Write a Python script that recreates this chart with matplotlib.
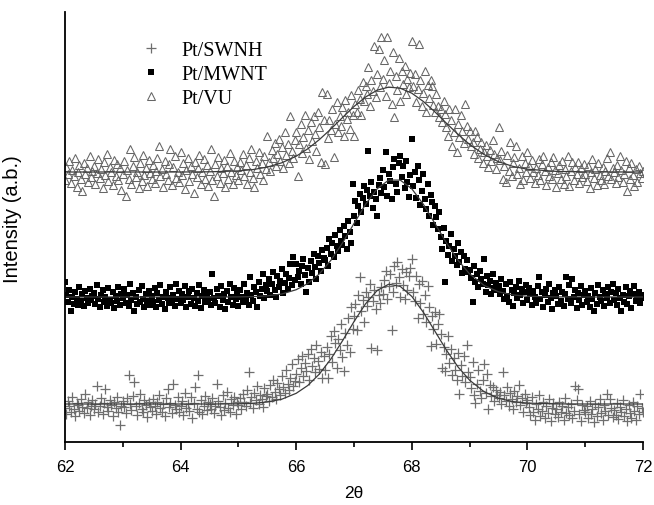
'''
XRD Pt(220) region for three Pt catalysts: scan points with their Gaussian fits
'''

import numpy as np
import matplotlib
matplotlib.use('Agg')
import matplotlib.pyplot as plt
from matplotlib.lines import Line2D


## Scan positions (2 theta, deg), 0.025 deg step
two_theta = np.round(np.arange(62.0, 72.0001, 0.025), 3)

## Pt/SWNH counts (a.u.)
swnh = [
   34, 28, 41, 36, 30, 45, 33, 26, 39, 37, 31, 43, 35, 29, 48, 34, 40, 27, 36, 42,
   33, 38, 56, 30, 36, 44, 28, 39, 53, 35, 31, 42, 37, 26, 40, 34, 45, 30, 17, 36,
   41, 35, 29, 44, 67, 38, 32, 46, 60, 36, 27, 39, 48, 33, 30, 42, 37, 25, 40, 35,
   31, 43, 36, 28, 40, 47, 34, 30, 38, 26, 44, 53, 35, 39, 29, 58, 37, 33, 45, 30,
   36, 41, 27, 49, 34, 38, 31, 45, 24, 39, 55, 33, 67, 30, 42, 28, 36, 46, 32, 40,
   38, 33, 44, 29, 36, 58, 41, 35, 27, 47, 32, 39, 50, 34, 30, 43, 37, 45, 28, 40,
   37, 44, 33, 48, 40, 36, 52, 70, 39, 45, 34, 49, 42, 56, 38, 47, 43, 35, 54, 46,
   48, 41, 57, 45, 62, 50, 43, 59, 53, 47, 66, 55, 49, 72, 58, 52, 64, 78, 56, 61,
   68, 83, 60, 74, 86, 66, 79, 71, 88, 62, 93, 76, 84, 70, 97, 81, 73, 90, 64, 86,
   72, 95, 64, 88, 106, 80, 111, 99, 74, 103, 92, 118, 85, 71, 109, 97, 124, 90, 135, 113,
   126, 138, 112, 147, 165, 131, 142, 120, 150, 136, 145, 158, 94, 141, 152, 133, 92, 147, 139, 155,
   148, 162, 171, 143, 156, 168, 112, 150, 176, 159, 180, 165, 145, 173, 157, 143, 170, 152, 166, 174,
   183, 150, 141, 166, 124, 158, 139, 161, 128, 147, 120, 156, 135, 96, 126, 113, 130, 98, 118, 128,
   108, 74, 95, 71, 88, 106, 79, 93, 67, 84, 72, 62, 89, 48, 77, 66, 86, 60, 97, 70,
   65, 54, 80, 47, 39, 58, 72, 51, 44, 62, 78, 49, 68, 33, 57, 46, 55, 41, 52, 47,
   44, 50, 38, 70, 47, 41, 55, 36, 49, 43, 33, 51, 40, 46, 57, 37, 44, 30, 48, 39,
   42, 35, 27, 45, 30, 22, 38, 33, 47, 26, 31, 40, 24, 36, 29, 43, 21, 34, 39, 28,
   33, 25, 40, 30, 36, 22, 44, 29, 35, 27, 38, 24, 31, 56, 42, 53, 28, 21, 37, 32,
   30, 36, 24, 41, 28, 33, 20, 38, 26, 35, 43, 29, 22, 37, 31, 48, 27, 43, 34, 25,
   32, 27, 39, 23, 35, 30, 42, 26, 33, 21, 37, 29, 24, 40, 31, 22, 36, 28, 48, 34,
   30,
]

## Pt/MWNT counts
mwnt = [
   160, 147, 140, 152, 131, 145, 138, 150, 143, 137, 155, 141, 148, 136, 151, 144, 139, 153, 142, 146,
   149, 138, 157, 143, 135, 147, 152, 140, 145, 136, 154, 142, 139, 150, 134, 146, 141, 155, 137, 148,
   144, 153, 139, 147, 136, 158, 142, 149, 131, 145, 138, 152, 140, 156, 143, 135, 148, 141, 151, 137,
   146, 140, 154, 135, 149, 142, 157, 138, 145, 133, 150, 144, 139, 155, 141, 147, 136, 158, 143, 151,
   139, 148, 142, 156, 135, 145, 151, 138, 153, 144, 136, 149, 141, 157, 134, 146, 152, 140, 147, 143,
   150, 137, 168, 144, 139, 153, 146, 135, 156, 142, 148, 133, 151, 140, 158, 145, 137, 154, 143, 149,
   136, 152, 145, 140, 158, 143, 149, 137, 165, 147, 141, 155, 150, 135, 160, 146, 153, 168, 144, 157,
   151, 163, 147, 158, 170, 152, 145, 166, 155, 161, 173, 149, 159, 168, 153, 164, 178, 157, 185, 162,
   178, 165, 171, 158, 176, 183, 167, 150, 174, 160, 181, 169, 188, 175, 163, 186, 179, 171, 192, 184,
   182, 194, 176, 203, 188, 199, 185, 207, 196, 191, 212, 201, 197, 216, 206, 193, 221, 210, 199, 258,
   226, 241, 219, 236, 248, 230, 244, 256, 238, 252, 291, 246, 260, 234, 250, 243, 226, 257, 264, 249,
   272, 255, 290, 246, 268, 261, 243, 275, 283, 258, 250, 279, 286, 265, 276, 254, 281, 260, 245, 267,
   303, 256, 270, 244, 276, 262, 237, 251, 268, 243, 233, 258, 226, 247, 240, 217, 236, 225, 213, 230,
   205, 193, 214, 160, 201, 187, 196, 208, 181, 193, 186, 177, 199, 180, 190, 169, 186, 173, 182, 170,
   172, 164, 140, 176, 160, 168, 155, 171, 163, 158, 183, 150, 166, 157, 161, 148, 168, 154, 159, 152,
   156, 148, 163, 151, 143, 158, 146, 140, 160, 152, 136, 149, 155, 144, 161, 147, 153, 139, 150, 157,
   142, 154, 148, 137, 151, 145, 139, 156, 165, 143, 150, 135, 147, 153, 140, 158, 144, 133, 149, 152,
   146, 138, 155, 141, 150, 136, 148, 165, 143, 157, 139, 163, 145, 152, 134, 149, 142, 156, 137, 147,
   151, 140, 146, 135, 154, 143, 131, 149, 138, 157, 145, 141, 152, 136, 148, 144, 155, 139, 150, 158,
   142, 149, 137, 153, 144, 131, 147, 140, 155, 138, 146, 151, 134, 148, 156, 141, 145, 150, 139, 147,
   144,
]

## Pt/VU counts
vu = [
   262, 275, 268, 281, 259, 272, 266, 284, 255, 270, 277, 263, 251, 279, 268, 274, 260, 286, 265, 271,
   276, 258, 269, 283, 264, 273, 254, 280, 267, 288, 261, 275, 270, 257, 282, 266, 278, 262, 274, 252,
   268, 281, 246, 272, 263, 293, 258, 276, 285, 265, 270, 254, 279, 261, 287, 267, 274, 256, 282, 269,
   263, 277, 259, 271, 284, 296, 266, 273, 255, 281, 268, 262, 278, 293, 257, 275, 286, 264, 270, 260,
   290, 267, 279, 253, 272, 284, 261, 276, 268, 249, 280, 265, 274, 287, 258, 270, 283, 263, 277, 256,
   271, 293, 262, 246, 278, 266, 285, 259, 274, 269, 282, 255, 276, 263, 289, 270, 258, 281, 267, 275,
   262, 280, 272, 288, 266, 277, 258, 284, 270, 293, 264, 255, 281, 274, 290, 268, 279, 262, 286, 273,
   306, 280, 271, 292, 284, 299, 276, 288, 303, 281, 295, 274, 310, 287, 298, 279, 326, 291, 284, 302,
   310, 266, 298, 318, 289, 305, 327, 294, 312, 283, 320, 301, 326, 308, 291, 330, 315, 280, 350, 322,
   278, 348, 304, 322, 312, 333, 285, 318, 340, 310, 326, 316, 335, 306, 342, 323, 330, 313, 347, 327,
   306, 338, 330, 352, 343, 327, 360, 341, 356, 348, 375, 336, 362, 351, 396, 345, 368, 393, 355, 405,
   363, 382, 346, 405, 359, 371, 338, 390, 325, 366, 352, 384, 341, 371, 358, 376, 348, 363, 355, 369,
   401, 356, 368, 340, 353, 398, 362, 336, 349, 371, 330, 357, 344, 362, 356, 337, 330, 348, 336, 325,
   333, 320, 341, 328, 315, 306, 333, 322, 296, 310, 333, 290, 318, 305, 327, 311, 299, 338, 316, 303,
   311, 296, 300, 288, 311, 305, 284, 293, 300, 279, 290, 297, 286, 275, 292, 281, 302, 288, 273, 284,
   315, 282, 291, 263, 276, 260, 287, 271, 300, 266, 279, 285, 296, 268, 274, 258, 286, 262, 279, 270,
   290, 276, 264, 282, 270, 259, 274, 267, 283, 262, 278, 286, 271, 257, 275, 266, 280, 263, 285, 272,
   255, 269, 277, 263, 281, 258, 273, 266, 286, 256, 271, 280, 262, 275, 268, 280, 259, 274, 265, 278,
   268, 261, 276, 254, 270, 283, 264, 273, 257, 279, 267, 262, 275, 258, 271, 284, 266, 290, 263, 274,
   270, 259, 277, 265, 286, 272, 260, 268, 281, 251, 274, 263, 279, 267, 256, 273, 260, 276, 269, 264,
   271,
]

## Fitted curves, sampled along 2 theta
fit_x = [62, 63, 64, 64.5, 65, 65.25, 65.5, 65.75, 66, 66.2, 66.4, 66.6, 66.8, 67, 67.2, 67.4,
         67.6, 67.8, 68, 68.2, 68.4, 68.6, 68.8, 69, 69.25, 69.5, 69.75, 70, 70.5, 71, 72]
fit_swnh = [38, 38, 38, 38.0, 38.2, 38.7, 40.0, 42.8, 48.7, 56.5, 67.9, 83.0, 101.1, 120.4, 138.2, 151.5,
            157.8, 155.6, 145.6, 129.7, 110.8, 91.8, 75.0, 61.8, 50.3, 43.7, 40.4, 38.9, 38.1, 38, 38]
fit_mwnt = [145, 145, 145, 145, 145.1, 145.4, 146.1, 148.0, 152.3, 158.5, 168.1, 181.7, 199.0, 218.5, 237.7, 253.2,
            261.9, 261.9, 253.2, 237.7, 218.5, 199.0, 181.7, 168.1, 156.6, 150.2, 147.1, 145.7, 145.1, 145, 145]
fit_vu = [270, 270, 270.0, 270.2, 271.1, 272.4, 274.9, 279.2, 285.8, 293.2, 302.4, 313.0, 324.4, 335.5, 345.0, 351.8,
          354.9, 353.8, 348.8, 340.5, 330.1, 318.7, 307.6, 297.6, 287.5, 280.3, 275.6, 272.8, 270.6, 270.1, 270]

## Marker styles per sample
sty_swnh = dict(ls='none', marker='+', ms=6.5, mew=0.9, color='#6e6e6e')
sty_mwnt = dict(ls='none', marker='s', ms=4.3, mew=0, color='black')
sty_vu = dict(ls='none', marker='^', ms=6, mew=0.75, mfc='none', mec='#666666')


fig = plt.figure(figsize=(6.54, 5.06), dpi=100)
ax = fig.add_axes([0.0994, 0.1245, 0.8838, 0.8498])

ax.plot(two_theta, swnh, **sty_swnh)
ax.plot(two_theta, mwnt, **sty_mwnt)
ax.plot(two_theta, vu, **sty_vu)

for fy in (fit_swnh, fit_mwnt, fit_vu):
   ax.plot(fit_x, fy, color='#3a3a3a', lw=0.9)

## Tidy things up
ax.set_xlim(62, 72)
ax.set_ylim(0, 430)
ax.set_xticks([62, 64, 66, 68, 70, 72])
ax.set_xticks([63, 65, 67, 69, 71], minor=True)
ax.set_yticks([])
for side in ('top', 'right'):
   ax.spines[side].set_visible(False)
for side in ('left', 'bottom'):
   ax.spines[side].set_linewidth(1.3)
ax.tick_params(axis='x', which='major', direction='out', length=6, width=1.2,
               labelsize=12, pad=6)
ax.tick_params(axis='x', which='minor', direction='out', length=3.5, width=1.2)
for lab in ax.get_xticklabels():
   lab.set_family('Liberation Sans')

ax.set_xlabel('2θ', family='Liberation Sans', fontsize=12.5, labelpad=8)
ax.set_ylabel('Intensity (a.b.)', family='Liberation Sans', fontsize=14.5)
ax.yaxis.set_label_coords(-0.074, 0.52)

handles = [Line2D([], [], **sty_swnh), Line2D([], [], **sty_mwnt), Line2D([], [], **sty_vu)]
ax.legend(handles, ['Pt/SWNH', 'Pt/MWNT', 'Pt/VU'], loc='upper left',
          bbox_to_anchor=(0.1, 0.975), frameon=False, handlelength=1.0,
          handletextpad=1.0, labelspacing=0.25,
          prop={'family': 'Liberation Serif', 'size': 14.5})

fig.savefig('out.png', dpi=100)
